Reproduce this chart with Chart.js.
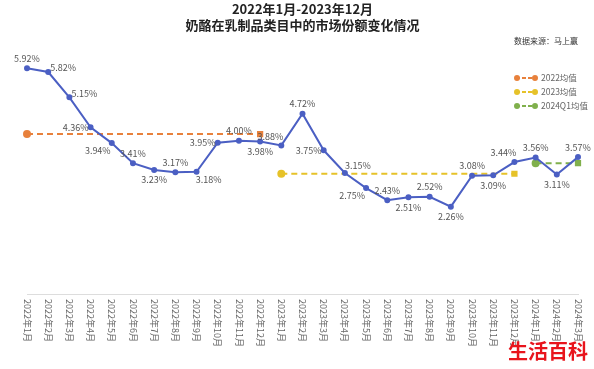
<!DOCTYPE html>
<html>
<head>
<meta charset="utf-8">
<script src="https://cdn.jsdelivr.net/npm/chart.js@4.4.1/dist/chart.umd.min.js"></script>
<style>
  body { margin: 0; background: #fff; }
  #wrap { width: 594px; height: 369px; position: relative; }
</style>
</head>
<body>
<div id="wrap"><canvas id="myChart"></canvas></div>
<script>
// 月份（横轴）
const months = [
    '2022年1月', '2022年2月', '2022年3月', '2022年4月', '2022年5月', '2022年6月',
    '2022年7月', '2022年8月', '2022年9月', '2022年10月', '2022年11月', '2022年12月',
    '2023年1月', '2023年2月', '2023年3月', '2023年4月', '2023年5月', '2023年6月',
    '2023年7月', '2023年8月', '2023年9月', '2023年10月', '2023年11月', '2023年12月',
    '2024年1月', '2024年2月', '2024年3月'
];
// 奶酪市场份额 (%)
const share = [
    5.92, 5.82, 5.15, 4.36, 3.94, 3.41, 3.23, 3.17, 3.18, 3.95, 4.00, 3.98,
    3.88, 4.72, 3.75, 3.15, 2.75, 2.43, 2.51, 2.52, 2.26, 3.08, 3.09, 3.44,
    3.56, 3.11, 3.57
];
// 均值
const avg2022 = 4.18;
const avg2023 = 3.13;
const avg2024q1 = 3.41;

// 数据标签的摆放位置
const labelPos = ['t', 'r', 'r', 'l', 'bl', 't', 'b', 't', 'br', 'l', 't', 'b',
                  'tl', 't', 'l', 'tr', 'bl', 't', 'b', 't', 'b', 't', 'b', 'tl',
                  't', 'b', 't'];
const offsets = {
    t: [0, -10], b: [0, 10], l: [-15, 0], r: [15, -4],
    tl: [-11, -9], tr: [13, -7], bl: [-14, 7], br: [12, 8]
};

const FONT = '"Noto Sans CJK SC", "Noto Sans", sans-serif';

// 某一段时间的均值线
function avgLine(val, from, to) {
    return months.map((m, i) => (i >= from && i <= to ? val : null));
}

const avgSets = [
    { label: '2022均值', data: avgLine(avg2022, 0, 11), color: '#e8813c', from: 0, to: 11 },
    { label: '2023均值', data: avgLine(avg2023, 12, 23), color: '#e6c229', from: 12, to: 23 },
    { label: '2024Q1均值', data: avgLine(avg2024q1, 24, 26), color: '#80b04c', from: 24, to: 26 }
];

// 数据标签
const valueLabels = {
    id: 'valueLabels',
    afterDatasetsDraw(chart) {
        const ctx = chart.ctx;
        const meta = chart.getDatasetMeta(0);
        ctx.save();
        ctx.font = '9px ' + FONT;
        ctx.fillStyle = '#555';
        ctx.textAlign = 'center';
        ctx.textBaseline = 'middle';
        meta.data.forEach((pt, i) => {
            const o = offsets[labelPos[i]];
            ctx.fillText(share[i].toFixed(2) + '%', pt.x + o[0], pt.y + o[1]);
        });
        ctx.restore();
    }
};

// 竖排的横轴标签、图例和水印
const extras = {
    id: 'extras',
    afterDraw(chart) {
        const ctx = chart.ctx;
        const x = chart.scales.x;
        ctx.save();
        ctx.font = '9px ' + FONT;
        ctx.fillStyle = '#666';
        ctx.textAlign = 'left';
        ctx.textBaseline = 'middle';
        months.forEach((m, i) => {
            ctx.save();
            ctx.translate(x.getPixelForTick(i), x.top + 5);
            ctx.rotate(Math.PI / 2);
            ctx.fillText(m, 0, 0);
            ctx.restore();
        });

        // 图例
        avgSets.forEach((s, i) => {
            const ly = 78 + i * 14;
            const lx = 516;
            ctx.strokeStyle = s.color;
            ctx.fillStyle = s.color;
            ctx.lineWidth = 2;
            ctx.setLineDash([4, 2]);
            ctx.beginPath();
            ctx.moveTo(lx, ly);
            ctx.lineTo(lx + 20, ly);
            ctx.stroke();
            ctx.setLineDash([]);
            ctx.beginPath();
            ctx.arc(lx + 1, ly, 3, 0, Math.PI * 2);
            ctx.arc(lx + 19, ly, 3, 0, Math.PI * 2);
            ctx.fill();
            ctx.fillStyle = '#666';
            ctx.font = '8.5px ' + FONT;
            ctx.fillText(s.label, lx + 25, ly);
        });

        // 水印
        ctx.font = 'bold 20px ' + FONT;
        ctx.fillStyle = '#e8141c';
        ctx.textAlign = 'right';
        ctx.fillText('生活百科', 588, 351);
        ctx.restore();
    }
};

const ctx = document.getElementById('myChart').getContext('2d');
const myChart = new Chart(ctx, {
    type: 'line',
    data: {
        labels: months,
        datasets: [
            {
                label: '市场份额',
                data: share,
                borderColor: '#4b5fc3',
                backgroundColor: '#4b5fc3',
                borderWidth: 2,
                pointRadius: 2,
                pointHoverRadius: 2,
                tension: 0
            },
            ...avgSets.map(s => ({
                label: s.label,
                data: s.data,
                borderColor: s.color,
                backgroundColor: s.color,
                borderWidth: 2,
                borderDash: [6, 4],
                pointRadius: c => (c.dataIndex === s.from || c.dataIndex === s.to ? 3 : 0),
                pointStyle: c => (c.dataIndex === s.from ? 'circle' : 'rect'),
                spanGaps: false
            }))
        ]
    },
    options: {
        responsive: true,
        maintainAspectRatio: false,
        animation: false,
        layout: { padding: { left: 27, right: 16, top: 0, bottom: 15 } },
        scales: {
            x: {
                grid: { display: false },
                border: { color: '#dddddd' },
                ticks: { display: false },
                afterFit: s => { s.height = 60; }
            },
            y: { display: false, min: -0.05, max: 6.4 }
        },
        plugins: {
            legend: { display: false },
            tooltip: { enabled: false },
            title: {
                display: true,
                text: ['2022年1月-2023年12月', '奶酪在乳制品类目中的市场份额变化情况'],
                color: '#222',
                font: { family: FONT, size: 13, weight: 'bold', lineHeight: 1.25 },
                padding: { top: 1, bottom: 0 }
            },
            subtitle: {
                display: true,
                text: '数据来源：马上赢',
                align: 'end',
                color: '#333',
                font: { family: FONT, size: 8 },
                padding: { top: 3, bottom: 4 }
            }
        }
    },
    plugins: [valueLabels, extras]
});
</script>
</body>
</html>
